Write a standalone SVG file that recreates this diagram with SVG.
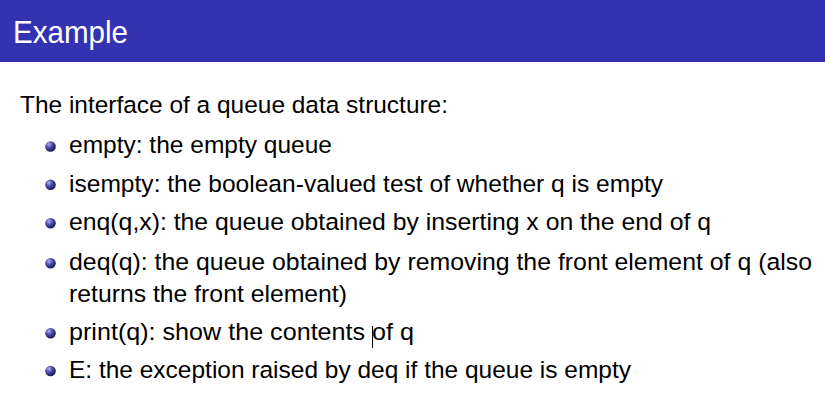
<svg xmlns="http://www.w3.org/2000/svg" width="825" height="406" viewBox="0 0 825 406">
  <style>
    .title { font-family: "Liberation Sans", Arial, sans-serif; font-size: 32px; fill: #ffffff; }
    .body { font-family: "Liberation Sans", Arial, sans-serif; font-size: 24.5px; fill: #000000; }
  </style>
  <defs>
    <radialGradient id="ball" cx="0.35" cy="0.3" r="0.75">
      <stop offset="0" stop-color="#b0b0ee"/>
      <stop offset="0.45" stop-color="#4a4aa8"/>
      <stop offset="1" stop-color="#141450"/>
    </radialGradient>
  </defs>
  <rect width="825" height="406" fill="#ffffff"/>
  <g id="header">
    <rect x="0" y="0" width="825" height="62" fill="#3333b2"/>
    <text class="title" x="13" y="43" textLength="115" lengthAdjust="spacingAndGlyphs">Example</text>
  </g>
  <g id="intro">
    <text class="body" x="20" y="113" textLength="428" lengthAdjust="spacingAndGlyphs">The interface of a queue data structure:</text>
  </g>
  <g id="bullets">
    <g id="item-empty">
      <circle cx="50.5" cy="146.5" r="5.3" fill="url(#ball)"/>
      <text class="body" x="69" y="153" textLength="263" lengthAdjust="spacingAndGlyphs">empty: the empty queue</text>
    </g>
    <g id="item-isempty">
      <circle cx="50.5" cy="184.8" r="5.3" fill="url(#ball)"/>
      <text class="body" x="69" y="192" textLength="594" lengthAdjust="spacingAndGlyphs">isempty: the boolean-valued test of whether q is empty</text>
    </g>
    <g id="item-enq">
      <circle cx="50.5" cy="223.3" r="5.3" fill="url(#ball)"/>
      <text class="body" x="69" y="230" textLength="642" lengthAdjust="spacingAndGlyphs">enq(q,x): the queue obtained by inserting x on the end of q</text>
    </g>
    <g id="item-deq">
      <circle cx="50.5" cy="263.3" r="5.3" fill="url(#ball)"/>
      <text class="body" x="69" y="270" textLength="743" lengthAdjust="spacingAndGlyphs">deq(q): the queue obtained by removing the front element of q (also</text>
      <text class="body" x="69" y="302" textLength="278" lengthAdjust="spacingAndGlyphs">returns the front element)</text>
    </g>
    <g id="item-print">
      <circle cx="50.5" cy="333.3" r="5.3" fill="url(#ball)"/>
      <text class="body" x="69" y="340" textLength="345" lengthAdjust="spacingAndGlyphs">print(q): show the contents of q</text>
      <line x1="372.5" y1="326" x2="372.5" y2="348" stroke="#000000" stroke-width="1"/>
    </g>
    <g id="item-E">
      <circle cx="50.5" cy="371" r="5.3" fill="url(#ball)"/>
      <text class="body" x="69" y="378" textLength="562" lengthAdjust="spacingAndGlyphs">E: the exception raised by deq if the queue is empty</text>
    </g>
  </g>
</svg>
